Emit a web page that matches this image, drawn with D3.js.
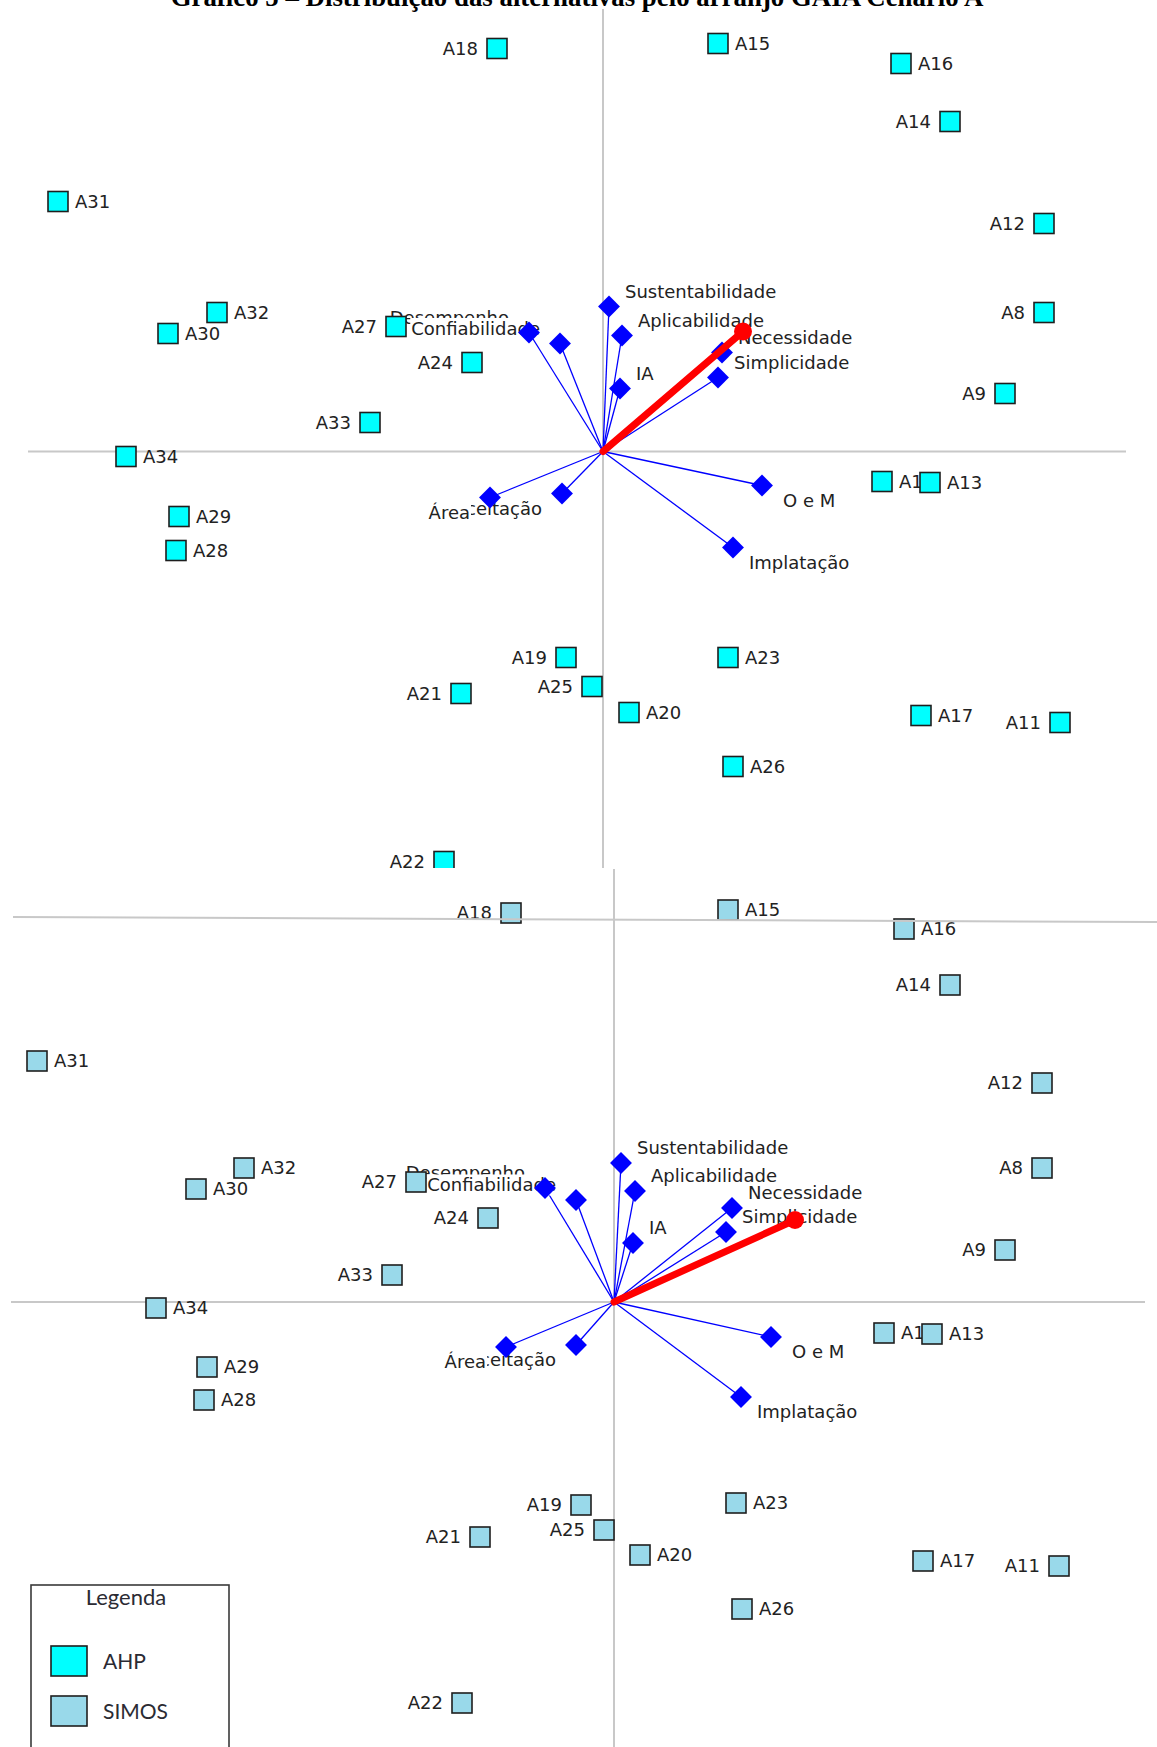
<!DOCTYPE html>
<html>
<head>
<meta charset="utf-8">
<script src="https://cdn.jsdelivr.net/npm/d3@7"></script>
<style>
  html, body { margin: 0; padding: 0; background: #fff; }
  svg { display: block; }
</style>
</head>
<body>
<script>
// ---- Data: GAIA plane, scenario A ----
const titleText = "Gráfico 5 – Distribuição das alternativas pelo arranjo GAIA Cenário A";

const alternatives = ["A8","A9","A10","A11","A12","A13","A14","A15","A16","A17","A18","A19","A20","A21",
  "A22","A23","A24","A25","A26","A27","A28","A29","A30","A31","A32","A33","A34"];

// AHP weighting
const ahpAltX = [4.41, 4.02, 2.79, 4.57, 4.41, 3.27, 3.47, 1.15, 2.98, 3.18, -1.06, -0.37, 0.26, -1.42,
  -1.59, 1.25, -1.31, -0.11, 1.30, -2.07, -4.27, -4.24, -4.35, -5.45, -3.86, -2.33, -4.77];
const ahpAltY = [1.39, 0.58, -0.30, -2.71, 2.28, -0.31, 3.30, 4.08, 3.88, -2.64, 4.03, -2.06, -2.61, -2.42,
  -4.10, -2.06, 0.89, -2.35, -3.15, 1.25, -0.99, -0.65, 1.18, 2.50, 1.39, 0.29, -0.05];

// SIMOS weighting
const simosAltX = [4.28, 3.91, 2.70, 4.45, 4.28, 3.18, 3.36, 1.14, 2.90, 3.09, -1.03, -0.33, 0.26, -1.34,
  -1.52, 1.22, -1.26, -0.10, 1.28, -1.98, -4.10, -4.07, -4.18, -5.77, -3.70, -2.22, -4.58];
const simosAltY = [1.34, 0.52, -0.31, -2.64, 2.19, -0.32, 3.17, 3.92, 3.73, -2.59, 3.89, -2.03, -2.53, -2.35,
  -4.01, -2.01, 0.84, -2.28, -3.07, 1.20, -0.98, -0.65, 1.13, 2.41, 1.34, 0.27, -0.06];

const criteria = ["Sustentabilidade","Aplicabilidade","Necessidade","Simplicidade","IA",
  "Desempenho","Confiabilidade","O e M","Implatação","Aceitação","Área"];

const ahpCritX = [0.06, 0.19, 1.19, 1.15, 0.17, -0.74, -0.43, 1.59, 1.30, -0.41, -1.13];
const ahpCritY = [1.45, 1.16, 0.99, 0.74, 0.63, 1.19, 1.08, -0.34, -0.96, -0.42, -0.46];
const simosCritX = [0.07, 0.21, 1.18, 1.12, 0.19, -0.69, -0.38, 1.57, 1.27, -0.38, -1.08];
const simosCritY = [1.39, 1.11, 0.94, 0.70, 0.59, 1.14, 1.02, -0.35, -0.95, -0.43, -0.45];

// decision stick (x, y)
const ahpStick = [1.40, 1.20];
const simosStick = [1.81, 0.82];

const legendItems = ["AHP", "SIMOS"];

// ---- Layout ----
const W = 1157, H = 1747;
const labelSide = {A8:"L",A9:"L",A10:"R",A11:"L",A12:"L",A13:"R",A14:"L",A15:"R",A16:"R",A17:"R",
  A18:"L",A19:"L",A20:"R",A21:"L",A22:"L",A23:"R",A24:"L",A25:"L",A26:"R",A27:"L",A28:"R",A29:"R",
  A30:"R",A31:"R",A32:"R",A33:"L",A34:"R"};
const critLabelDx = {"O e M": 21};

const colors = { AHP: "#00ffff", SIMOS: "#99d9ea" };
const FONT = "'DejaVu Sans', Verdana, sans-serif";
const LEGEND_FONT = "Lato, 'Open Sans', sans-serif";

const svg = d3.select("body").append("svg")
  .attr("width", W).attr("height", H).attr("viewBox", `0 0 ${W} ${H}`);

const defs = svg.append("defs");
defs.append("clipPath").attr("id", "clipTop")
  .append("rect").attr("x", 0).attr("y", 0).attr("width", W).attr("height", 868);
defs.append("clipPath").attr("id", "clipBottom")
  .append("rect").attr("x", 0).attr("y", 868).attr("width", W).attr("height", H - 868);

function drawPanel(cfg) {
  const g = svg.append("g").attr("clip-path", `url(#${cfg.clip})`);
  const x = d3.scaleLinear().domain([-1, 1]).range([cfg.ox - 100, cfg.ox + 100]);
  const y = d3.scaleLinear().domain([-1, 1]).range([cfg.oy + 100, cfg.oy - 100]);

  // axes
  g.append("line").attr("x1", cfg.hAxis[0]).attr("x2", cfg.hAxis[1])
    .attr("y1", y(0)).attr("y2", y(0)).attr("stroke", "#c8c8c8").attr("stroke-width", 2);
  g.append("line").attr("x1", x(0)).attr("x2", x(0))
    .attr("y1", cfg.vAxis[0]).attr("y2", cfg.vAxis[1]).attr("stroke", "#c8c8c8").attr("stroke-width", 2);

  const crit = criteria.map((name, i) => ({ name, cx: cfg.critX[i], cy: cfg.critY[i] }));
  const alts = alternatives.map((name, i) => ({ name, ax: cfg.altX[i], ay: cfg.altY[i] }));

  // criterion axes
  g.append("g").selectAll("line").data(crit).join("line")
    .attr("x1", x(0)).attr("y1", y(0))
    .attr("x2", d => x(d.cx)).attr("y2", d => y(d.cy))
    .attr("stroke", "#0000ff").attr("stroke-width", 1.3);

  // alternative labels
  g.append("g").selectAll("text").data(alts).join("text")
    .attr("x", d => labelSide[d.name] === "R" ? x(d.ax) + 17 : x(d.ax) - 19)
    .attr("y", d => y(d.ay))
    .attr("dy", "0.36em")
    .attr("text-anchor", d => labelSide[d.name] === "R" ? "start" : "end")
    .attr("font-family", FONT).attr("font-size", 18).attr("fill", "#222")
    .text(d => d.name);

  // criterion labels with white boxes
  const cl = g.append("g").selectAll("g").data(crit).join("g");
  cl.each(function (d) {
    const right = d.cx >= 0;
    const dx = critLabelDx[d.name] !== undefined ? critLabelDx[d.name] : (right ? 16 : -20);
    const dyv = d.cy >= 0 ? -15 : 15;
    const sel = d3.select(this);
    const bg = sel.append("rect").attr("fill", "#fff");
    const t = sel.append("text")
      .attr("x", x(d.cx) + dx).attr("y", y(d.cy) + dyv).attr("dy", "0.36em")
      .attr("text-anchor", right ? "start" : "end")
      .attr("font-family", FONT).attr("font-size", 18).attr("fill", "#222")
      .text(d.name);
    const b = t.node().getBBox();
    bg.attr("x", b.x - 1).attr("y", b.y).attr("width", b.width + 2).attr("height", b.height);
  });

  // alternative squares
  g.append("g").selectAll("rect").data(alts).join("rect")
    .attr("x", d => x(d.ax) - 10).attr("y", d => y(d.ay) - 10)
    .attr("width", 20).attr("height", 20)
    .attr("fill", cfg.fill).attr("stroke", "#1e1e1e").attr("stroke-width", 1.6);

  // criterion diamonds
  const diamond = d3.symbol().type(d3.symbolSquare).size(240);
  g.append("g").selectAll("path").data(crit).join("path")
    .attr("d", diamond)
    .attr("transform", d => `translate(${x(d.cx)},${y(d.cy)}) rotate(45)`)
    .attr("fill", "#0000ff");

  // decision stick
  g.append("line").attr("x1", x(0)).attr("y1", y(0))
    .attr("x2", x(cfg.stick[0])).attr("y2", y(cfg.stick[1]))
    .attr("stroke", "#ff0000").attr("stroke-width", 7).attr("stroke-linecap", "round");
  g.append("circle").attr("cx", x(cfg.stick[0])).attr("cy", y(cfg.stick[1]))
    .attr("r", 9).attr("fill", "#ff0000");

  if (cfg.extraLine) {
    g.append("line").attr("x1", cfg.extraLine[0]).attr("y1", cfg.extraLine[1])
      .attr("x2", cfg.extraLine[2]).attr("y2", cfg.extraLine[3])
      .attr("stroke", "#c8c8c8").attr("stroke-width", 2);
  }
  return g;
}

drawPanel({
  clip: "clipTop", ox: 603, oy: 451.5, hAxis: [28, 1126], vAxis: [9, 868],
  altX: ahpAltX, altY: ahpAltY, critX: ahpCritX, critY: ahpCritY, stick: ahpStick, fill: colors.AHP
});

drawPanel({
  clip: "clipBottom", ox: 614, oy: 1302, hAxis: [11, 1145], vAxis: [869, H],
  altX: simosAltX, altY: simosAltY, critX: simosCritX, critY: simosCritY, stick: simosStick, fill: colors.SIMOS,
  extraLine: [13, 917, W, 922]
});

// title (partially cut at the top edge)
const title = svg.append("text")
  .attr("x", 577).attr("y", 6).attr("text-anchor", "middle")
  .attr("font-family", "'Liberation Serif', 'Times New Roman', serif")
  .attr("font-weight", "bold").attr("font-size", 24).attr("fill", "#000")
  .text(titleText);
const tl = title.node().getComputedTextLength();
title.attr("font-size", 24 * 813 / tl);

// legend
const lg = svg.append("g");
lg.append("rect").attr("x", 31).attr("y", 1585).attr("width", 198).attr("height", 200)
  .attr("fill", "#fff").attr("stroke", "#3a3a3a").attr("stroke-width", 1.6);
lg.append("text").attr("x", 126).attr("y", 1605).attr("text-anchor", "middle")
  .attr("font-family", LEGEND_FONT).attr("font-size", 22).attr("fill", "#2b2b33")
  .text("Legenda");
legendItems.forEach((k, i) => {
  const top = 1646 + i * 50;
  lg.append("rect").attr("x", 51).attr("y", top).attr("width", 36).attr("height", 30)
    .attr("fill", colors[k]).attr("stroke", "#1e1e1e").attr("stroke-width", 1.6);
  lg.append("text").attr("x", 103).attr("y", top + 15).attr("dy", "0.36em")
    .attr("font-family", LEGEND_FONT).attr("font-size", 21).attr("fill", "#2b2b33")
    .text(k);
});
</script>
</body>
</html>
